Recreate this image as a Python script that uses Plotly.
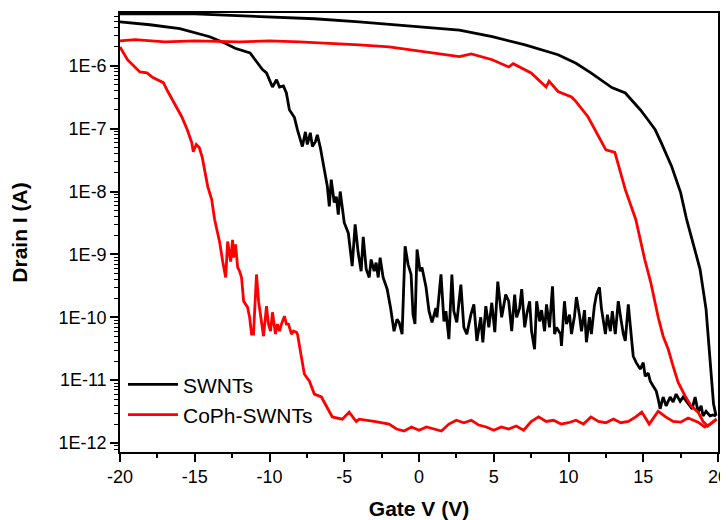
import plotly.graph_objects as go

# ---------------------------------------------
# data (Gate V in volts, Drain I in amps)
# ---------------------------------------------

# SWNTs, lower branch (stepped turn-off, noisy off-state)
v_swnt_low = [-20, -18, -16, -14, -13, -12.3, -11.3, -10.47, -10.2, -9.8, -9.53, -9.33, -9.07, -8.87,
              -8.67, -8.33, -8.13, -7.8, -7.6, -7.47, -7.27, -7.13, -6.93, -6.8, -6.6, -6.33, -6.13,
              -6.0, -5.87, -5.67, -5.53, -5.4, -5.27, -5.0, -4.73, -4.47, -4.27, -4.07, -3.87, -3.73,
              -3.53, -3.33, -3.2, -3.0, -2.87, -2.73, -2.6, -2.4, -2.13, -1.9, -1.67, -1.47, -1.33,
              -1.13, -0.93, -0.73, -0.53, -0.4, -0.27, -0.13, 0.07, 0.2, 0.47, 0.67, 0.87, 1.13, 1.2,
              1.47, 1.67, 1.8, 2.0, 2.2, 2.33, 2.53, 2.8, 3.0, 3.2, 3.47, 3.67, 3.87, 4.13, 4.27, 4.47,
              4.67, 4.87, 5.07, 5.27, 5.53, 5.8, 6.0, 6.2, 6.4, 6.53, 6.73, 6.87, 7.07, 7.2, 7.4, 7.53,
              7.73, 7.87, 8.07, 8.2, 8.4, 8.53, 8.73, 8.93, 9.07, 9.2, 9.47, 9.53, 9.73, 9.87, 10.07,
              10.2, 10.4, 10.53, 10.73, 10.87, 11.07, 11.2, 11.4, 11.53, 11.73, 11.87, 12.07, 12.2,
              12.47, 12.6, 12.8, 12.93, 13.13, 13.33, 13.53, 13.67, 13.8, 14.0, 14.2, 14.33, 14.53,
              14.8, 15.0, 15.13, 15.33, 15.47, 15.67, 15.87, 16.0, 16.13, 16.33, 16.53, 16.8, 17.0,
              17.2, 17.47, 17.67, 18.0, 18.27, 18.47, 18.67, 18.87, 19.0, 19.2, 19.47, 19.67, 19.87]
i_swnt_low = [5.0e-6, 4.5e-6, 3.9e-6, 2.9e-6, 2.3e-6, 1.9e-6, 1.6e-6, 8.7e-7, 7.7e-7, 4.6e-7, 6.0e-7,
              4.6e-7, 4.8e-7, 3.7e-7, 2.0e-7, 1.5e-7, 9.6e-8, 5.2e-8, 8.9e-8, 5.6e-8, 8.6e-8, 5.2e-8,
              6.2e-8, 8.0e-8, 5.0e-8, 2.2e-8, 1.2e-8, 5.8e-9, 1.55e-8, 6.7e-9, 8.3e-9, 4.3e-9, 1.0e-8,
              3.2e-9, 2.2e-9, 6.5e-10, 3.0e-9, 1.07e-9, 5.4e-10, 1.9e-9, 5.8e-10, 4.3e-10, 8.3e-10,
              5.4e-10, 7.4e-10, 4.3e-10, 8.9e-10, 4.3e-10, 2.8e-10, 1.4e-10, 6.0e-11, 9.3e-11, 8.3e-11,
              5.4e-11, 1.35e-9, 6.9e-10, 4.8e-10, 1.1e-10, 7.8e-11, 1.2e-9, 5.4e-10, 6.2e-10, 3.0e-10,
              1.25e-10, 8.3e-11, 1.4e-10, 1.0e-10, 4.8e-10, 8.6e-11, 1.25e-10, 4.5e-11, 4.8e-10,
              1.25e-10, 8.3e-11, 3.3e-10, 6.9e-11, 5.4e-11, 1.1e-10, 1.6e-10, 4.2e-11, 1.0e-10, 4.0e-11,
              1.5e-10, 6.9e-11, 1.7e-10, 5.8e-11, 3.7e-10, 1.0e-10, 2.3e-10, 1.8e-10, 6.0e-11, 2.3e-10,
              1.0e-10, 1.4e-10, 2.8e-10, 6.9e-11, 1.1e-10, 1.8e-10, 6.0e-11, 3.1e-11, 1.8e-10, 8.6e-11,
              1.3e-10, 6.0e-11, 1.6e-10, 6.9e-11, 3.1e-10, 5.4e-11, 6.9e-11, 5.4e-11, 3.5e-11, 1.8e-10,
              7.8e-11, 1.1e-10, 5.4e-11, 1.04e-10, 2.1e-10, 1.1e-10, 6.0e-11, 1.3e-10, 4.0e-11, 1.0e-10,
              5.4e-11, 1.5e-10, 2.3e-10, 3.0e-10, 1.4e-10, 5.4e-11, 1.1e-10, 6.0e-11, 1.25e-10, 5.4e-11,
              1.8e-10, 8.6e-11, 5.4e-11, 4.2e-11, 1.6e-10, 5.0e-11, 2.4e-11, 1.9e-11, 1.5e-11, 1.9e-11,
              1.15e-11, 1.3e-11, 9.6e-12, 8.0e-12, 6.7e-12, 5.0e-12, 3.5e-12, 5.4e-12, 3.9e-12, 5.4e-12,
              4.5e-12, 6.0e-12, 4.6e-12, 5.4e-12, 4.2e-12, 3.5e-12, 5.4e-12, 3.1e-12, 3.9e-12, 2.7e-12,
              3.2e-12, 2.7e-12, 2.8e-12, 2.7e-12]

# SWNTs, upper branch
v_swnt_high = [-20, -15, -13, -10, -7, -4, 0, 2.7, 4.9, 7.1, 9.3, 10.5, 11.5, 12.9, 13.8, 14.2, 14.8,
               15.3, 15.8, 16.2, 16.9, 17.5, 17.9, 18.5, 18.8, 19.2, 19.4, 19.55, 19.7, 19.87]
i_swnt_high = [6.7e-6, 6.7e-6, 6.4e-6, 6.0e-6, 5.6e-6, 5.0e-6, 4.2e-6, 3.7e-6, 2.9e-6, 2.15e-6, 1.5e-6,
               1.1e-6, 7.7e-7, 4.5e-7, 3.7e-7, 2.9e-7, 2.0e-7, 1.4e-7, 9.6e-8, 6.0e-8, 2.5e-8, 9.6e-9,
               3.6e-9, 1.07e-9, 5.8e-10, 1.35e-10, 3.7e-11, 1.25e-11, 4.2e-12, 2.7e-12]

# CoPh-SWNTs, lower branch (early turn-off, flat ~2 pA floor)
v_coph_low = [-20, -19.5, -18.67, -18.2, -17.8, -17.1, -16.8, -16.4, -15.87, -15.5, -15.2, -15.1, -14.9,
              -14.7, -14.5, -14.13, -13.87, -13.67, -13.33, -13.13, -12.93, -12.8, -12.6, -12.47, -12.4,
              -12.27, -12.13, -12.0, -11.87, -11.73, -11.47, -11.33, -11.2, -11.07, -10.87, -10.73,
              -10.53, -10.4, -10.2, -10.07, -9.93, -9.8, -9.6, -9.47, -9.33, -9.2, -9.0, -8.87, -8.73,
              -8.53, -8.4, -8.2, -8.13, -7.87, -7.67, -7.33, -7.0, -6.53, -6.13, -5.8, -5.13, -4.67,
              -4.2, -4, -3, -2, -1.5, -1, -0.5, 0, 0.5, 1, 1.5, 2, 2.5, 3, 3.5, 4, 4.5, 5, 5.5, 6,
              6.5, 7, 7.5, 8, 8.5, 9, 9.5, 10, 10.5, 11, 11.5, 12, 12.5, 13, 13.5, 14, 14.5, 14.9,
              15.4, 16, 16.5, 17, 17.5, 18, 18.67, 19.1, 19.5, 19.9]
i_coph_low = [2.0e-6, 1.25e-6, 8.0e-7, 7.7e-7, 6.5e-7, 5.4e-7, 3.9e-7, 2.6e-7, 1.55e-7, 9.6e-8, 6.0e-8,
              4.3e-8, 5.6e-8, 5.0e-8, 3.5e-8, 1.2e-8, 7.5e-9, 3.6e-9, 1.55e-9, 7.7e-10, 4.3e-10,
              1.6e-9, 7.7e-10, 1.7e-9, 8.9e-10, 1.45e-9, 6.2e-10, 5.4e-10, 4.3e-10, 1.8e-10, 1.45e-10,
              1.0e-10, 5.4e-11, 5.4e-11, 4.8e-10, 1.8e-10, 8.6e-11, 5.0e-11, 1.5e-10, 7.8e-11, 6.0e-11,
              1.2e-10, 5.4e-11, 7.8e-11, 6.0e-11, 7.8e-11, 1.04e-10, 7.8e-11, 7.8e-11, 5.4e-11, 6.0e-11,
              5.8e-11, 5.4e-11, 2.3e-11, 1.25e-11, 9.6e-12, 6.0e-12, 5.4e-12, 3.7e-12, 2.6e-12, 2.4e-12,
              3.1e-12, 2.2e-12, 2.4e-12, 2.2e-12, 2.0e-12, 1.67e-12, 1.55e-12, 1.8e-12, 1.6e-12, 1.8e-12,
              1.67e-12, 1.55e-12, 2.0e-12, 2.3e-12, 2.1e-12, 2.3e-12, 1.93e-12, 1.8e-12, 1.6e-12,
              1.8e-12, 1.67e-12, 1.86e-12, 1.6e-12, 2.2e-12, 2.6e-12, 2.2e-12, 2.3e-12, 2.0e-12, 2.1e-12,
              2.3e-12, 2.0e-12, 2.6e-12, 2.2e-12, 2.1e-12, 2.4e-12, 2.1e-12, 2.2e-12, 2.6e-12, 3.1e-12,
              2.0e-12, 3.2e-12, 2.6e-12, 2.2e-12, 2.15e-12, 2.5e-12, 2.15e-12, 1.8e-12, 2.0e-12, 2.4e-12]

# CoPh-SWNTs, upper branch
v_coph_high = [-20, -19, -17, -15, -12, -10, -8, -6, -4, -2, 0.5, 2.7, 3.5, 4.9, 6.0, 6.3, 7.5, 8.5,
               8.7, 9.3, 10.2, 10.5, 11.3, 12.0, 12.5, 13.1, 13.8, 14.5, 15.1, 15.5, 16.0, 16.33,
               16.67, 17.0, 17.33, 17.8, 18.2, 18.67, 19.0, 19.3, 19.67, 19.9]
i_coph_high = [2.5e-6, 2.6e-6, 2.4e-6, 2.5e-6, 2.4e-6, 2.5e-6, 2.4e-6, 2.3e-6, 2.15e-6, 2.0e-6, 1.67e-6,
               1.4e-6, 1.55e-6, 1.25e-6, 9.6e-7, 1.08e-6, 7.7e-7, 4.6e-7, 5.7e-7, 3.9e-7, 3.2e-7,
               2.7e-7, 1.55e-7, 7.5e-8, 4.6e-8, 4.2e-8, 1.07e-8, 3.6e-9, 8.3e-10, 3.6e-10, 1.0e-10,
               5.0e-11, 3.1e-11, 1.66e-11, 9.3e-12, 5.6e-12, 3.9e-12, 3.1e-12, 2.2e-12, 1.86e-12,
               2.15e-12, 2.4e-12]

x_tick_vals = [-20, -15, -10, -5, 0, 5, 10, 15, 20]
x_tick_text = ["-20", "-15", "-10", "-5", "0", "5", "10", "15", "20"]
y_tick_vals = [1e-12, 1e-11, 1e-10, 1e-9, 1e-8, 1e-7, 1e-6]
y_tick_text = ["1E-12", "1E-11", "1E-10", "1E-9", "1E-8", "1E-7", "1E-6"]

FONT = "Liberation Sans, Arial, sans-serif"
LW = 2.8

fig = go.Figure()

fig.add_trace(go.Scatter(x=v_swnt_low, y=i_swnt_low, mode="lines", name="SWNTs",
                         legendgroup="swnt", line=dict(color="black", width=LW)))
fig.add_trace(go.Scatter(x=v_swnt_high, y=i_swnt_high, mode="lines", name="SWNTs",
                         legendgroup="swnt", showlegend=False, line=dict(color="black", width=LW)))
fig.add_trace(go.Scatter(x=v_coph_low, y=i_coph_low, mode="lines", name="CoPh-SWNTs",
                         legendgroup="coph", line=dict(color="#ff0000", width=LW)))
fig.add_trace(go.Scatter(x=v_coph_high, y=i_coph_high, mode="lines", name="CoPh-SWNTs",
                         legendgroup="coph", showlegend=False, line=dict(color="#ff0000", width=LW)))

minor_y = [k * 10.0 ** e for e in range(-13, -4) for k in range(2, 10)]

# the page body adds an 8px margin, so the figure is sized to 720x512
fig.update_layout(
    width=720, height=512,
    margin=dict(l=112, r=10, t=5, b=68),
    paper_bgcolor="white", plot_bgcolor="white",
    font=dict(family=FONT, color="black", size=18),
    legend=dict(x=0.005, y=0.2, xanchor="left", yanchor="top", itemwidth=50,
                bgcolor="rgba(0,0,0,0)", font=dict(size=21), tracegroupgap=0),
    xaxis=dict(
        range=[-20, 20], tickvals=x_tick_vals, ticktext=x_tick_text, automargin=False,
        ticklabeloverflow="allow",
        ticks="outside", ticklen=8, tickwidth=1.5, tickcolor="black",
        showline=True, linecolor="black", linewidth=1.5, mirror=True,
        showgrid=False, zeroline=False,
        minor=dict(tickvals=[-17.5, -12.5, -7.5, -2.5, 2.5, 7.5, 12.5, 17.5],
                   ticks="outside", ticklen=4, tickwidth=1.5, tickcolor="black", showgrid=False),
        title=dict(text="<b>Gate V (V)</b>", font=dict(size=21), standoff=15),
    ),
    yaxis=dict(
        type="log", range=[-12.143, -5.16], automargin=False,
        tickvals=y_tick_vals, ticktext=y_tick_text,
        ticks="outside", ticklen=8, tickwidth=1.5, tickcolor="black",
        showline=True, linecolor="black", linewidth=1.5, mirror=True,
        showgrid=False, zeroline=False,
        minor=dict(tickvals=minor_y, ticks="outside", ticklen=4, tickwidth=1,
                   tickcolor="black", showgrid=False),
        title=dict(text="<b>Drain I (A)</b>", font=dict(size=21), standoff=37),
    ),
)

fig.write_html("out.html")
